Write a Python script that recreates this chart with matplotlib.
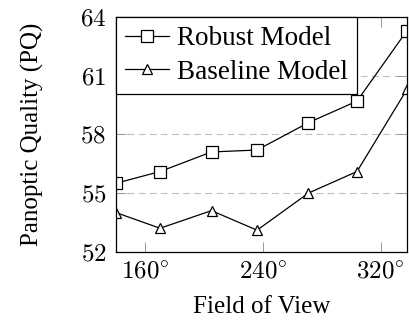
import matplotlib
matplotlib.use("Agg")
import matplotlib.pyplot as plt

# field of view (degrees) and panoptic quality
fov = [140, 170, 205, 236, 271, 304, 338]
robust_pq = [55.5, 56.1, 57.1, 57.2, 58.6, 59.7, 63.3]
baseline_pq = [54.0, 53.2, 54.1, 53.1, 55.0, 56.1, 60.3]

x_ticks = [160, 240, 320]
y_ticks = [52, 55, 58, 61, 64]

plt.rcParams['font.family'] = ['Liberation Serif', 'DejaVu Serif']
plt.rcParams['mathtext.fontset'] = 'cm'

fig = plt.figure(figsize=(4.09, 3.24), dpi=100)
ax = fig.add_axes([0.2836, 0.2231, 0.7114, 0.7244])

ax.plot(fov, robust_pq, color='black', lw=0.9, marker='s', ms=8.5,
        mfc='white', mec='black', mew=0.9, label='Robust Model')
ax.plot(fov, baseline_pq, color='black', lw=0.9, marker='^', ms=7,
        mfc='white', mec='black', mew=0.9, label='Baseline Model')

ax.set_xlim(fov[0], fov[-1])
ax.set_ylim(52, 64)
ax.set_xticks(x_ticks)
ax.set_xticklabels([r'$%d^{\circ}$' % t for t in x_ticks])
ax.set_yticks(y_ticks)
ax.set_yticklabels([r'$%d$' % t for t in y_ticks])
ax.tick_params(direction='in', length=7.5, width=0.7, color='0.6',
               labelsize=18, top=True, right=True, pad=7)
ax.grid(axis='y', color='0.75', ls=(0, (6, 4)), lw=0.8)
ax.set_axisbelow(True)
for s in ax.spines.values():
    s.set_linewidth(0.9)

ax.set_xlabel('Field of View', fontsize=18, labelpad=9)
ax.set_ylabel('Panoptic Quality (PQ)', fontsize=18, labelpad=26)

leg = ax.legend(loc='upper left', fontsize=19.5, frameon=True, fancybox=False,
                borderpad=0.35, labelspacing=0.3, handlelength=1.6,
                handletextpad=0.3, borderaxespad=0)
leg.get_frame().set_edgecolor('black')
leg.get_frame().set_linewidth(0.9)
leg.get_frame().set_alpha(1)

fig.savefig('out.png', dpi=100)
